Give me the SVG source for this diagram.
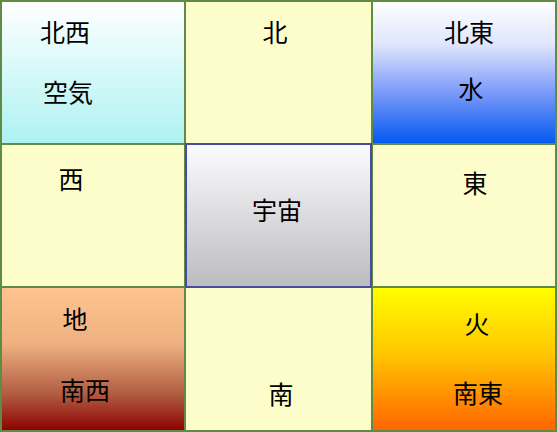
<svg xmlns="http://www.w3.org/2000/svg" width="557" height="432" viewBox="0 0 557 432">
<defs>
<linearGradient id="gNW" x1="0" y1="0" x2="0" y2="1"><stop offset="0" stop-color="#ffffff"/><stop offset="1" stop-color="#aef2f2"/></linearGradient>
<linearGradient id="gNE" x1="0" y1="0" x2="0" y2="1"><stop offset="0" stop-color="#ffffff"/><stop offset="0.3" stop-color="#e0e6fc"/><stop offset="0.65" stop-color="#7898f8"/><stop offset="1" stop-color="#0058f0"/></linearGradient>
<linearGradient id="gC" x1="0" y1="0" x2="0" y2="1"><stop offset="0" stop-color="#fcfcff"/><stop offset="1" stop-color="#bcbcbf"/></linearGradient>
<linearGradient id="gSW" x1="0" y1="0" x2="0" y2="1"><stop offset="0" stop-color="#ffc490"/><stop offset="0.4" stop-color="#eeb080"/><stop offset="0.75" stop-color="#b05a40"/><stop offset="1" stop-color="#8c0000"/></linearGradient>
<linearGradient id="gSE" x1="0" y1="0" x2="0" y2="1"><stop offset="0" stop-color="#ffff00"/><stop offset="0.45" stop-color="#ffc800"/><stop offset="1" stop-color="#ff6400"/></linearGradient>
</defs>
<style>
.cell{stroke:#5e8c44;stroke-width:2}
.y{fill:#fdfdcc}
.c{stroke:#4a4aa6;stroke-width:2}
text{font-family:"Noto Sans CJK JP","Noto Sans CJK SC",sans-serif;font-size:25px;fill:#000;text-anchor:middle}
</style>
<g id="nw"><rect class="cell" x="1" y="1" width="184" height="143" fill="url(#gNW)"/><text x="65" y="42">北西</text><text x="68" y="102">空気</text></g>
<g id="n"><rect class="cell y" x="185" y="1" width="187" height="143"/><text x="275" y="42">北</text></g>
<g id="ne"><rect class="cell" x="372" y="1" width="184" height="143" fill="url(#gNE)"/><text x="469" y="42">北東</text><text x="471" y="99">水</text></g>
<g id="w"><rect class="cell y" x="1" y="144" width="184" height="143"/><text x="71" y="189">西</text></g>
<g id="e"><rect class="cell y" x="372" y="144" width="184" height="143"/><text x="475" y="193">東</text></g>
<g id="sw"><rect class="cell" x="1" y="287" width="184" height="144" fill="url(#gSW)"/><text x="75" y="329">地</text><text x="85" y="400">南西</text></g>
<g id="s"><rect class="cell y" x="185" y="287" width="187" height="144"/><text x="281" y="404">南</text></g>
<g id="se"><rect class="cell" x="372" y="287" width="184" height="144" fill="url(#gSE)"/><text x="477" y="334">火</text><text x="478" y="403">南東</text></g>
<g id="center"><rect class="c" x="186" y="144" width="185" height="143" fill="url(#gC)"/><text x="277" y="220">宇宙</text></g>
<g id="connectors"></g>
</svg>
